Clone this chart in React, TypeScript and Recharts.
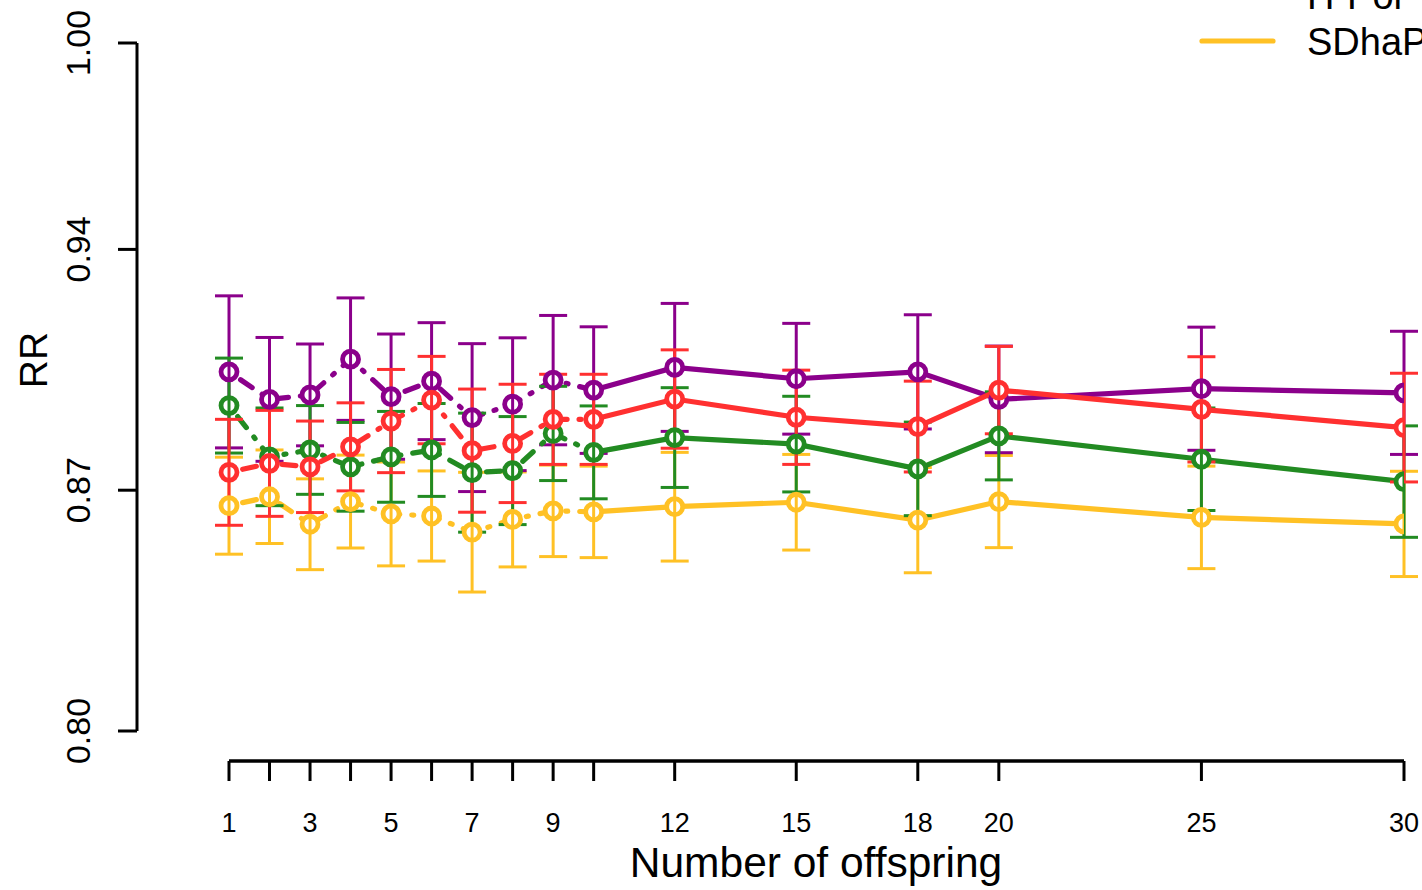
import React from 'react';
import { ComposedChart, Line, XAxis, YAxis, ErrorBar, ReferenceLine } from 'recharts';

// number of offspring (x positions)
const offspring = [1, 2, 3, 4, 5, 6, 7, 8, 9, 10, 12, 15, 18, 20, 25, 30];
const xTickLabels = [1, 3, 5, 7, 9, 12, 15, 18, 20, 25, 30];
const yTicks = [0.8, 0.87, 0.94, 1.0];

// RR means and half-widths of the error bars
const purpleMean = [0.9044, 0.8964, 0.8977, 0.9081, 0.8972, 0.9017, 0.8911, 0.895, 0.902, 0.8991, 0.9057, 0.9024, 0.9044, 0.8964, 0.8995, 0.8983];
const purpleErr = [0.0221, 0.018, 0.0148, 0.0178, 0.0182, 0.017, 0.0215, 0.0193, 0.0188, 0.0184, 0.0186, 0.0161, 0.0166, 0.0155, 0.0179, 0.0179];

const redMean = [0.8752, 0.8778, 0.8768, 0.8826, 0.8901, 0.8962, 0.8815, 0.8836, 0.8906, 0.8906, 0.8965, 0.8912, 0.8885, 0.8991, 0.8935, 0.8882];
const redErr = [0.0154, 0.0154, 0.0133, 0.0128, 0.015, 0.0127, 0.0179, 0.0172, 0.0131, 0.0131, 0.0143, 0.0137, 0.0132, 0.0127, 0.0153, 0.0158];

const greenMean = [0.8946, 0.8797, 0.8817, 0.8768, 0.8797, 0.8817, 0.8751, 0.8757, 0.8865, 0.881, 0.8853, 0.8834, 0.8762, 0.8858, 0.879, 0.8725];
const greenErr = [0.0138, 0.0142, 0.0129, 0.0129, 0.0132, 0.0135, 0.0173, 0.0157, 0.0137, 0.0135, 0.0145, 0.0139, 0.0136, 0.0128, 0.0149, 0.0162];

const yellowMean = [0.8655, 0.8681, 0.8601, 0.8667, 0.8631, 0.8625, 0.8578, 0.8615, 0.864, 0.8637, 0.8652, 0.8665, 0.8613, 0.8667, 0.8621, 0.8602];
const yellowErr = [0.0141, 0.0136, 0.0132, 0.0135, 0.0151, 0.0131, 0.0174, 0.0138, 0.0133, 0.0133, 0.0158, 0.0139, 0.0153, 0.0134, 0.0149, 0.0153];

const legendNames = ['H-Por', 'SDhaP'];

// layout (px)
const W = 1422;
const H = 890;
const PLOT_LEFT = 137; // y axis line
const X_FIRST_PX = 229; // x = 1
const X_LAST_PX = 1404; // x = 30
const Y_TOP_PX = 43; // RR = 1.00
const Y_LOW_PX = 731; // RR = 0.80
const X_AXIS_PX = 761;

const pxPerX = (X_LAST_PX - X_FIRST_PX) / (30 - 1);
const xMin = 1 - (X_FIRST_PX - PLOT_LEFT) / pxPerX;
const pxPerY = (Y_LOW_PX - Y_TOP_PX) / (1.0 - 0.8);
const yMin = 1.0 - (X_AXIS_PX - Y_TOP_PX) / pxPerY;

const FONT = "'Liberation Sans', Arial, sans-serif";
const DASH = '2 12 14 12';
const LW = 5.2;

type Row = { n: number; v: number; e: number | null };

const rows = (mean: number[], err: number[], early: boolean): Row[] => {
  const idx = offspring.map((_, i) => i).filter((i) => (early ? offspring[i] <= 10 : offspring[i] >= 10));
  return idx.map((i, k) => ({ n: offspring[i], v: mean[i], e: !early && k === 0 ? null : err[i] }));
};

const series = [
  { key: 'yellow', color: '#FFC125', mean: yellowMean, err: yellowErr },
  { key: 'purple', color: '#8B008B', mean: purpleMean, err: purpleErr },
  { key: 'green', color: '#228B22', mean: greenMean, err: greenErr },
  { key: 'red', color: '#FF3030', mean: redMean, err: redErr },
];

const makeDot = (color: string, skipFirst: boolean) => (props: any) => {
  const { cx, cy, index } = props;
  if ((skipFirst && index === 0) || cx == null || cy == null) return <g key={`d-${index}`} />;
  return (
    <g key={`d-${index}`}>
      <circle cx={cx} cy={cy} r={8} fill="#fff" stroke={color} strokeWidth={4.8} />
      <line x1={cx} y1={cy - 8} x2={cx} y2={cy + 8} stroke={color} strokeWidth={3} />
    </g>
  );
};

const XTick = (props: any) => {
  const { x, payload } = props;
  if (!xTickLabels.includes(payload.value)) return <g />;
  return (
    <text x={x} y={832} textAnchor="middle" fontSize={27} fontFamily={FONT} fill="#000">
      {payload.value}
    </text>
  );
};

const YTick = (props: any) => {
  const { y, payload } = props;
  return (
    <text x={90} y={y} transform={`rotate(-90 90 ${y})`} textAnchor="middle" fontSize={34} fontFamily={FONT} fill="#000">
      {payload.value.toFixed(2)}
    </text>
  );
};

export default function App() {
  return (
    <div style={{ position: 'absolute', left: 0, top: 0, background: '#fff' }}>
      <ComposedChart
        width={W}
        height={H}
        margin={{ top: Y_TOP_PX, right: W - X_LAST_PX, left: 0, bottom: 69 }}
      >
        <XAxis
          type="number"
          dataKey="n"
          domain={[xMin, 30]}
          allowDataOverflow
          ticks={offspring}
          interval={0}
          height={H - X_AXIS_PX - 69}
          axisLine={false}
          tickLine={{ stroke: '#000', strokeWidth: 3 }}
          tickSize={20}
          tick={<XTick />}
        />
        <YAxis
          type="number"
          domain={[yMin, 1.0]}
          allowDataOverflow
          ticks={yTicks}
          interval={0}
          width={PLOT_LEFT}
          axisLine={false}
          tickLine={{ stroke: '#000', strokeWidth: 3 }}
          tickSize={19}
          tick={<YTick />}
        />
        <ReferenceLine
          segment={[{ x: xMin, y: 0.8 }, { x: xMin, y: 1.0 }]}
          stroke="#000"
          strokeWidth={3}
          ifOverflow="visible"
        />
        <ReferenceLine
          segment={[{ x: 1, y: yMin }, { x: 30, y: yMin }]}
          stroke="#000"
          strokeWidth={3.5}
          ifOverflow="visible"
        />
        {series.flatMap((s) => [
          <Line
            key={`${s.key}-early`}
            data={rows(s.mean, s.err, true)}
            dataKey="v"
            stroke={s.color}
            strokeWidth={LW}
            strokeDasharray={DASH}
            strokeLinecap="round"
            dot={makeDot(s.color, false)}
            activeDot={false}
            isAnimationActive={false}
          >
            <ErrorBar dataKey="e" direction="y" width={14} stroke={s.color} strokeWidth={3} />
          </Line>,
          <Line
            key={`${s.key}-late`}
            data={rows(s.mean, s.err, false)}
            dataKey="v"
            stroke={s.color}
            strokeWidth={LW}
            strokeLinecap="round"
            dot={makeDot(s.color, true)}
            activeDot={false}
            isAnimationActive={false}
          >
            <ErrorBar dataKey="e" direction="y" width={14} stroke={s.color} strokeWidth={3} />
          </Line>,
        ])}
        <text x={47} y={360} transform="rotate(-90 47 360)" textAnchor="middle" fontSize={39} fontFamily={FONT} fill="#000">
          RR
        </text>
        <text x={816} y={877} textAnchor="middle" fontSize={42.5} fontFamily={FONT} fill="#000">
          Number of offspring
        </text>
        <text x={1307} y={9} fontSize={38} fontFamily={FONT} fill="#000">
          {legendNames[0]}
        </text>
        <line x1={1202} y1={41} x2={1273} y2={41} stroke="#FFC125" strokeWidth={LW} strokeLinecap="round" />
        <text x={1307} y={55} fontSize={38} fontFamily={FONT} fill="#000">
          {legendNames[1]}
        </text>
      </ComposedChart>
    </div>
  );
}
